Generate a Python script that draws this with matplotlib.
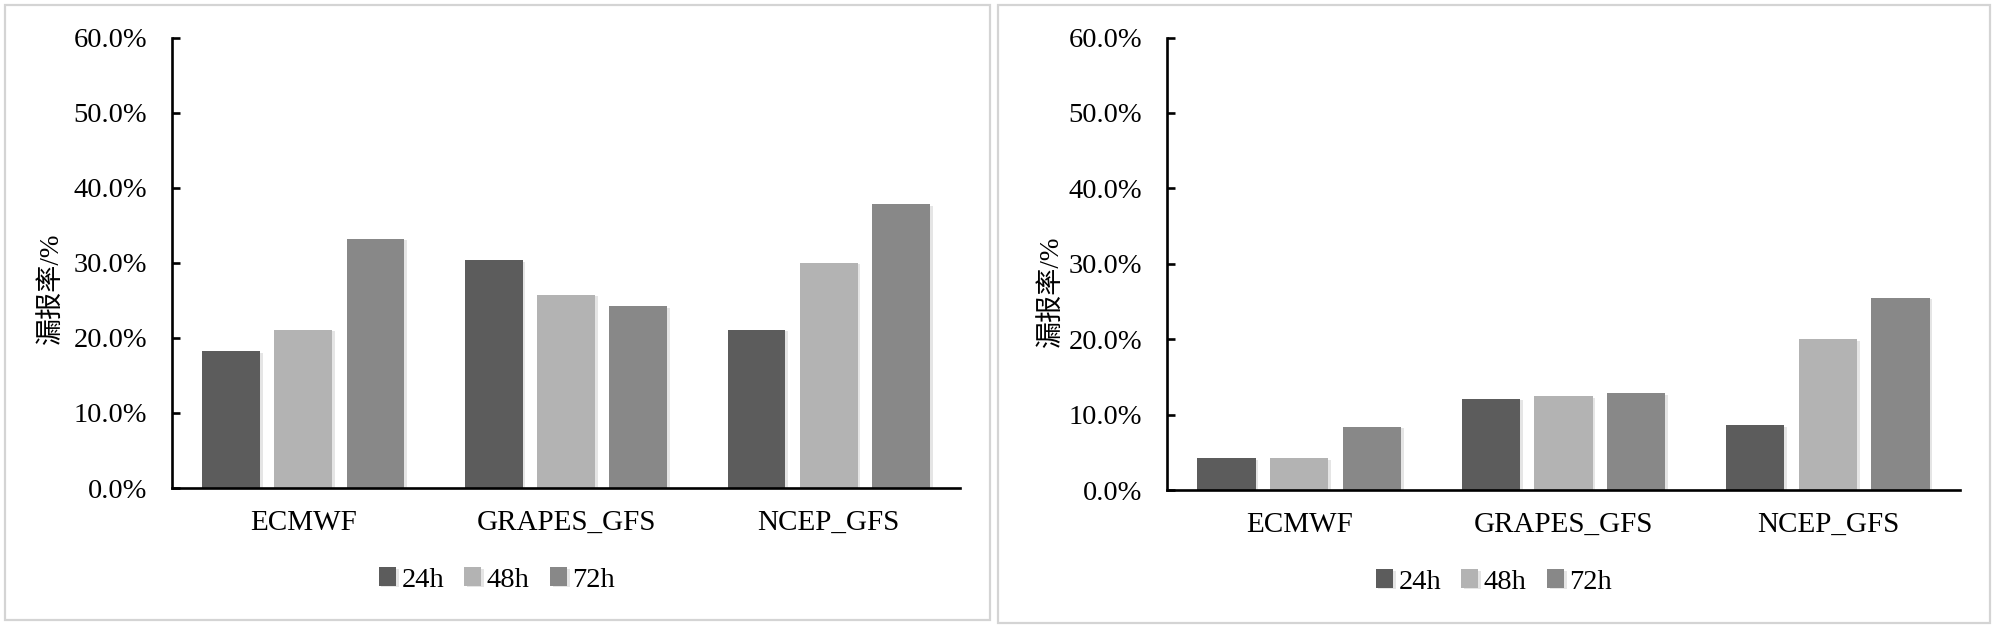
import matplotlib
matplotlib.use("Agg")
import matplotlib.pyplot as plt
import numpy as np
from matplotlib.patches import Rectangle
from matplotlib.ticker import FuncFormatter
import matplotlib.patheffects as pe

plt.rcParams['font.family'] = ['Liberation Serif', 'DejaVu Serif']

categories = ["ECMWF", "GRAPES_GFS", "NCEP_GFS"]
series_names = ["24h", "48h", "72h"]
left_24h = [18.2, 30.3, 21.1]
left_48h = [21.1, 25.7, 30.0]
left_72h = [33.2, 24.2, 37.8]
right_24h = [4.2, 12.1, 8.6]
right_48h = [4.2, 12.4, 20.0]
right_72h = [8.4, 12.8, 25.5]
yticks = [0, 10, 20, 30, 40, 50, 60]
ylabel = "漏报率/%"

colors = ["#5c5c5c", "#b3b3b3", "#888888"]

fig = plt.figure(figsize=(20, 6.32), dpi=100)

# panel borders
for (x0, y0, x1, y1) in [(5, 5, 990, 620), (998, 5, 1990, 623)]:
    fig.patches.append(Rectangle((x0 / 2000, 1 - y1 / 632), (x1 - x0) / 2000, (y1 - y0) / 632,
                                 transform=fig.transFigure, fill=False,
                                 edgecolor="#d4d4d4", linewidth=1.6, zorder=0))

axes_specs = [
    ([172 / 2000, (632 - 488) / 632, 788 / 2000, 450.5 / 632], [left_24h, left_48h, left_72h],
     (-0.137, 0.444), (497 / 2000, 1 - 580 / 632)),
    ([1167 / 2000, (632 - 490) / 632, 793 / 2000, 452.5 / 632], [right_24h, right_48h, right_72h],
     (-0.13, 0.44), (1494 / 2000, 1 - 582 / 632)),
]

shadow = [pe.SimplePatchShadow(offset=(2, -1), shadow_rgbFace="#000000", alpha=0.1), pe.Normal()]

x = np.arange(len(categories))
step = 0.275
width = 0.22
for rect, series, lblpos, legpos in axes_specs:
    ax = fig.add_axes(rect)
    handles = []
    for i, (vals, name, c) in enumerate(zip(series, series_names, colors)):
        bars = ax.bar(x + (i - 1) * step, vals, width=width, color=c, label=name, zorder=2)
        for b in bars:
            b.set_path_effects(shadow)
        handles.append(bars)
    ax.set_xlim(-0.5, 2.5)
    ax.set_ylim(0, 60)
    ax.set_yticks(yticks)
    ax.yaxis.set_major_formatter(FuncFormatter(lambda v, p: f"{v:.1f}%"))
    ax.set_xticks(x)
    ax.set_xticklabels(categories)
    for s in ["top", "right"]:
        ax.spines[s].set_visible(False)
    for s in ["left", "bottom"]:
        ax.spines[s].set_linewidth(1.9)
        ax.spines[s].set_color("black")
    ax.tick_params(axis="y", direction="in", length=6, width=1.9, labelsize=20.5, pad=18)
    ax.tick_params(axis="x", length=0, labelsize=21, pad=16)
    ax.set_ylabel(ylabel, fontsize=19.5, family=["Liberation Serif", "Noto Sans CJK SC"])
    ax.yaxis.set_label_coords(*lblpos)
    fig.legend(handles=handles, labels=series_names, loc="center", bbox_to_anchor=legpos,
               ncol=3, frameon=False, fontsize=20.5, handlelength=0.6, handleheight=0.6,
               handletextpad=0.2, columnspacing=0.7)

fig.savefig("out.png", dpi=100)
